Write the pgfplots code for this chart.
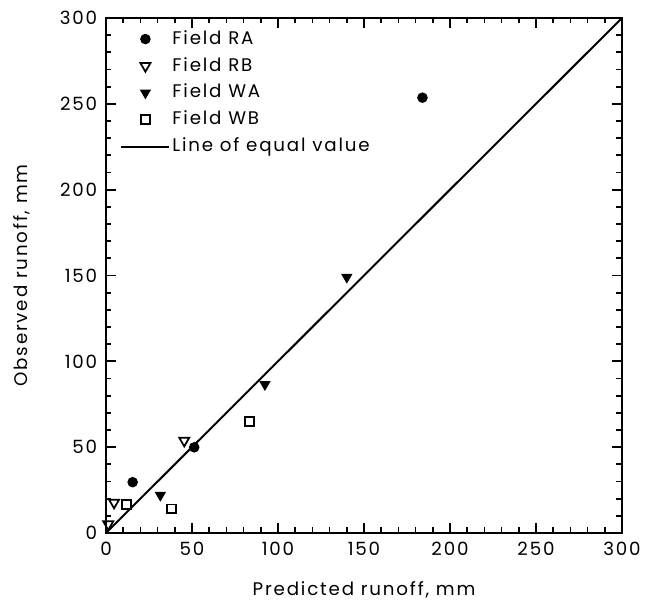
\documentclass[border=0pt]{standalone}
\usepackage{fontspec}
\setmainfont{Poppins}[LetterSpace=10]
\usepackage{pgfplots}
\pgfplotsset{compat=1.18}

% legend images: all 19pt wide, mark drawn at the middle
\pgfplotsset{
  markleg/.style={legend image code/.code={
      \path[draw=none] (0pt,0pt) -- (19pt,0pt);
      \draw[##1,only marks] plot coordinates {(9.6pt,0pt)};}},
  lineleg/.style={legend image code/.code={
      \draw[##1] (0pt,0pt) -- (19pt,0pt);}},
}

\begin{document}
\begin{tikzpicture}
\begin{axis}[
    scale only axis,
    width=206.4pt, height=206pt,
    at={(0,0)}, anchor=south west,
    xmin=0, xmax=300, ymin=0, ymax=300,
    xtick={0,50,...,300}, ytick={0,50,...,300},
    minor tick num=4,
    tick align=inside,
    major tick length=4pt, minor tick length=2.2pt,
    axis line style={line width=0.8pt},
    every tick/.style={black, line width=0.7pt},
    tick label style={font=\fontsize{7.3}{8}\selectfont},
    label style={font=\fontsize{7.3}{8}\selectfont},
    /pgf/number format/assume math mode=true,
    xlabel={Predicted runoff, mm},
    ylabel={Observed runoff, mm},
    xlabel style={yshift=-3.5pt},
    ylabel style={yshift=5pt},
    legend cell align=left,
    legend style={draw=none, fill=none, at={(0.027,0.982)}, anchor=north west,
        inner sep=0pt, row sep=1.7pt, font=\fontsize{7.3}{8}\selectfont,
        nodes={inner sep=1pt}},
]
\addplot[only marks, mark=*, mark size=1.9pt, black, markleg] coordinates {
    (15.5,29.6) (51.3,49.9) (184,253.6)
};
\addlegendentry{Field RA}
\addplot[only marks, mark=triangle, mark size=2.3pt, black, line width=0.7pt,
    mark options={rotate=180}, markleg] coordinates {
    (1.3,5.1) (4.7,17.7) (45.5,53.8)
};
\addlegendentry{Field RB}
\addplot[only marks, mark=triangle*, mark size=2.2pt, black,
    mark options={rotate=180}, markleg] coordinates {
    (31.6,22) (92.4,86.5) (140,149)
};
\addlegendentry{Field WA}
\addplot[only marks, mark=square, mark size=1.75pt, black, line width=0.7pt, markleg] coordinates {
    (12,16.6) (38,14) (83.3,65)
};
\addlegendentry{Field WB}
\addplot[black, line width=0.8pt, lineleg] coordinates {(0,0) (300,300)};
\addlegendentry{Line of equal value}
\end{axis}
\path[use as bounding box] (-42.4pt,-25.2pt) rectangle (220.4pt,213.2pt);
\end{tikzpicture}
\end{document}
